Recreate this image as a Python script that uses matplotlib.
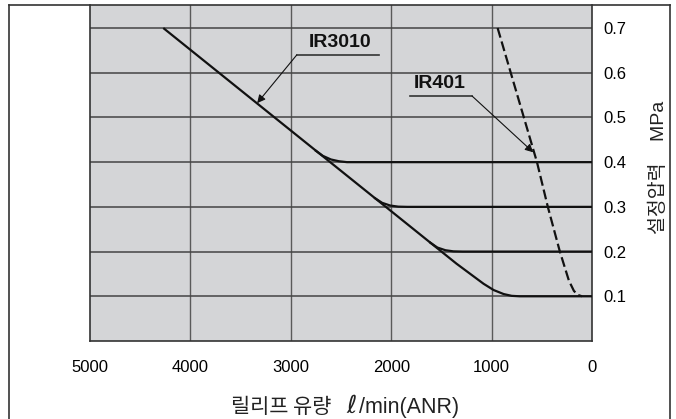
import matplotlib
matplotlib.use("Agg")
import matplotlib.pyplot as plt
from matplotlib.lines import Line2D

# ---- data ----
x_ticks = [5000, 4000, 3000, 2000, 1000, 0]
x_tick_labels = ["5000", "4000", "3000", "2000", "1000", "0"]
y_ticks = [0.1, 0.2, 0.3, 0.4, 0.5, 0.6, 0.7]
y_tick_labels = ["0.1", "0.2", "0.3", "0.4", "0.5", "0.6", "0.7"]

# IR3010 main curve (diagonal down to 0.1 MPa)
ir3010_flow = [4270, 1350, 1200, 1080, 980, 880, 800, 720, 0]
ir3010_p = [0.70, 0.173, 0.148, 0.128, 0.114, 0.105, 0.101, 0.100, 0.100]
# IR3010 branches for set pressures 0.4 / 0.3 / 0.2
ir3010_b04_flow = [2760, 2680, 2600, 2520, 2440, 0]
ir3010_b04_p = [0.427, 0.414, 0.406, 0.402, 0.400, 0.400]
ir3010_b03_flow = [2170, 2090, 2010, 1930, 1840, 0]
ir3010_b03_p = [0.3206, 0.309, 0.303, 0.3005, 0.300, 0.300]
ir3010_b02_flow = [1620, 1540, 1460, 1380, 1290, 0]
ir3010_b02_p = [0.2214, 0.209, 0.203, 0.2005, 0.200, 0.200]

# IR401 (dashed)
ir401_flow = [940, 548, 440, 320, 230, 180, 140, 100]
ir401_p = [0.70, 0.40, 0.30, 0.20, 0.135, 0.112, 0.103, 0.100]

xlabel_kr = "릴리프 유량"
xlabel_sym = "ℓ"
xlabel_unit = "/min(ANR)"
ylabel = "설정압력    MPa"

# ---- figure ----
W, H = 676, 419
fig = plt.figure(figsize=(W / 100, H / 100), dpi=100)
ax = fig.add_axes([90 / W, 1 - 341 / H, (592 - 90) / W, (341 - 5) / H])
ax.set_facecolor("#d4d5d7")
ax.set_xlim(5000, 0)
ax.set_ylim(0, 0.7515)

# grid
for xv in x_ticks[1:-1]:
    ax.axvline(xv, color="#5a5a5a", lw=1.0, zorder=1)
for yv in y_ticks:
    ax.axhline(yv, color="#444444", lw=1.1, zorder=1)

curve_kw = dict(color="#111111", lw=1.6, zorder=3, solid_capstyle="butt")
ax.plot(ir3010_flow, ir3010_p, **curve_kw)
ax.plot(ir3010_b04_flow, ir3010_b04_p, **curve_kw)
ax.plot(ir3010_b03_flow, ir3010_b03_p, **curve_kw)
ax.plot(ir3010_b02_flow, ir3010_b02_p, **curve_kw)
ax.plot(ir401_flow, ir401_p, color="#111111", lw=1.6, linestyle=(0, (4.5, 1.8)), zorder=4)

# ticks
ax.set_xticks(x_ticks)
ax.set_xticklabels(x_tick_labels, fontfamily="Liberation Sans", fontsize=12)
ax.set_yticks(y_ticks)
ax.set_yticklabels(y_tick_labels, fontfamily="Liberation Sans", fontsize=12)
ax.yaxis.tick_right()
ax.tick_params(axis="x", length=0, pad=14)
ax.tick_params(axis="y", length=0, pad=8)

for s in ["left", "bottom", "right"]:
    ax.spines[s].set_color("#333333")
    ax.spines[s].set_linewidth(1.2)
ax.spines["top"].set_visible(False)

# x label, built from three pieces on one baseline
yb = 1 - 413 / H
fig.text(331 / W, yb, xlabel_kr, ha="right", va="baseline",
         fontfamily="Noto Sans CJK KR", fontsize=15, color="#222222")
fig.text(352 / W, yb, xlabel_sym, ha="center", va="baseline",
         fontfamily="DejaVu Sans", fontsize=18, color="#222222")
fig.text(359 / W, yb, xlabel_unit, ha="left", va="baseline",
         fontfamily="Liberation Sans", fontsize=15.5, color="#222222")

# right axis title
fig.text(659 / W, 1 - 167 / H, ylabel, rotation=90, ha="center", va="center",
         fontfamily=["Liberation Sans", "Noto Sans CJK KR"], fontsize=14, color="#222222")

# annotations
ax.text(2510, 0.668, "IR3010", ha="center", va="center", fontfamily="Liberation Sans",
        fontweight="bold", fontsize=14, color="#111111", zorder=5)
ax.plot([2940, 2120], [0.640, 0.640], color="#333333", lw=1.2, zorder=5)
ax.annotate("", xy=(3335, 0.532), xytext=(2940, 0.640),
            arrowprops=dict(arrowstyle="-|>", color="#111111", lw=0.8, mutation_scale=12,
                            shrinkA=0, shrinkB=0), zorder=5)

ax.text(1514, 0.577, "IR401", ha="center", va="center", fontfamily="Liberation Sans",
        fontweight="bold", fontsize=14, color="#111111", zorder=5)
ax.plot([1813, 1195], [0.548, 0.548], color="#333333", lw=1.2, zorder=5)
ax.annotate("", xy=(585, 0.422), xytext=(1195, 0.548),
            arrowprops=dict(arrowstyle="-|>", color="#111111", lw=0.8, mutation_scale=12,
                            shrinkA=0, shrinkB=0), zorder=5)

# outer frame (open at bottom)
fx0, fx1, fy = 9 / W, 670 / W, 1 - 5.5 / H
frame_kw = dict(color="#333333", lw=1.2, transform=fig.transFigure)
fig.add_artist(Line2D([fx0, fx0], [0, fy], **frame_kw))
fig.add_artist(Line2D([fx1, fx1], [0, fy], **frame_kw))
fig.add_artist(Line2D([fx0, fx1], [fy, fy], **frame_kw))

fig.savefig("out.png", dpi=100)
